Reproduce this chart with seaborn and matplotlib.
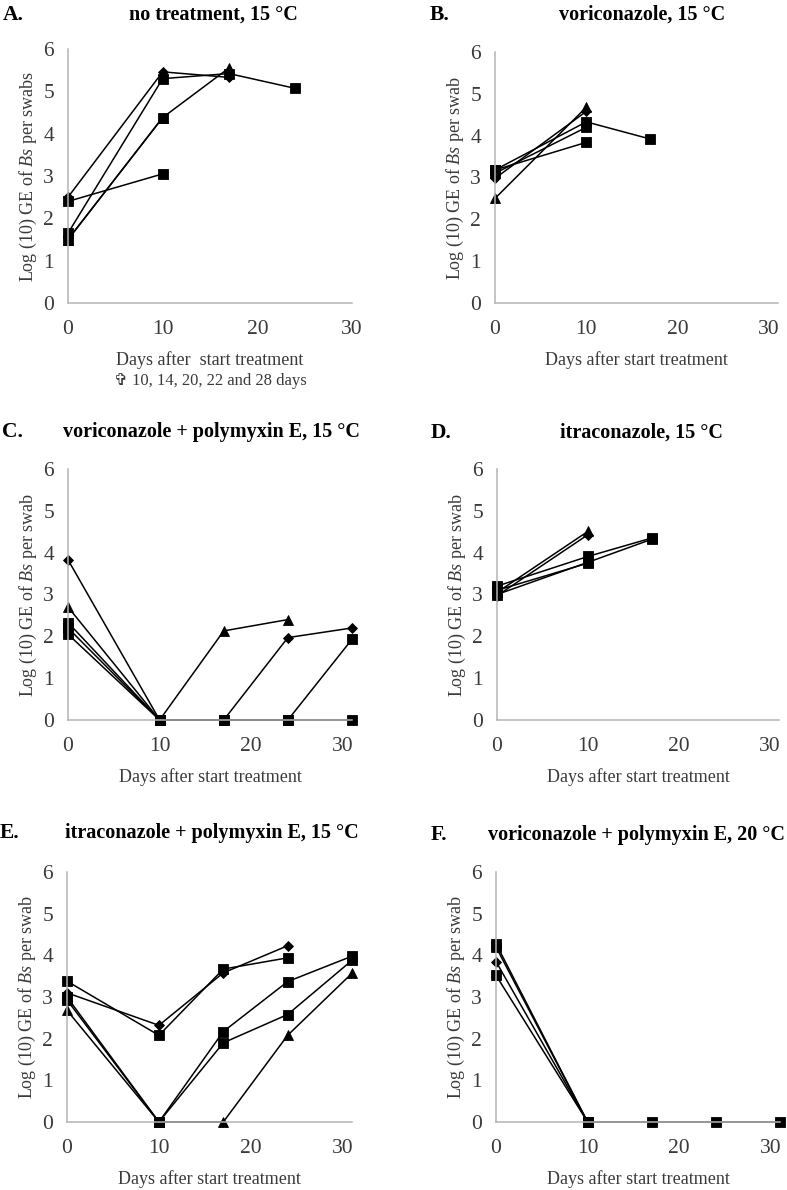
import matplotlib
matplotlib.use("Agg")
import matplotlib.pyplot as plt
import seaborn as sns

# ---------------- data (days after start treatment, log10 GE per swab) -------
# Panel A: no treatment, 15 °C
A_diamond_days = [0, 10, 17]
A_diamond = [2.5, 5.46, 5.33]
A_sq1_days = [0, 10]
A_sq1 = [2.4, 3.05]
A_tri_days = [0, 10, 17]
A_tri = [1.5, 4.38, 5.55]
A_sq2_days = [0, 10, 17, 24]
A_sq2 = [1.65, 5.3, 5.42, 5.07]
A_sq3_days = [0, 10]
A_sq3 = [1.5, 4.38]

# Panel B: voriconazole, 15 °C
B_tri_days = [0, 10]
B_tri = [2.5, 4.68]
B_diamond_days = [0, 10]
B_diamond = [2.98, 4.58]
B_sq1_days = [0, 10, 17]
B_sq1 = [3.18, 4.33, 3.92]
B_sq2_days = [0, 10]
B_sq2 = [3.1, 4.2]
B_sq3_days = [0, 10]
B_sq3 = [3.18, 3.84]

# Panel C: voriconazole + polymyxin E, 15 °C
C_diamond_days = [0, 10, 17, 24, 31]
C_diamond = [3.83, 0, 0, 1.97, 2.2]
C_tri_days = [0, 10, 17, 24]
C_tri = [2.7, 0, 2.13, 2.4]
C_sq1_days = [0, 10, 17, 24, 31]
C_sq1 = [2.33, 0, 0, 0, 1.93]
C_sq2_days = [0, 10, 17, 24, 31]
C_sq2 = [2.2, 0, 0, 0, 0]
C_sq3_days = [0, 10]
C_sq3 = [2.05, 0]

# Panel D: itraconazole, 15 °C
D_tri_days = [0, 10]
D_tri = [3.05, 4.51]
D_diamond_days = [0, 10]
D_diamond = [2.97, 4.43]
D_sq1_days = [0, 10, 17]
D_sq1 = [3.2, 3.91, 4.35]
D_sq2_days = [0, 10, 17]
D_sq2 = [3.0, 3.77, 4.32]
D_sq3_days = [0, 10]
D_sq3 = [3.1, 3.75]

# Panel E: itraconazole + polymyxin E, 15 °C
E_tri_days = [0, 10, 17, 24, 31]
E_tri = [2.68, 0, 0, 2.08, 3.57]
E_diamond_days = [0, 10, 17, 24]
E_diamond = [3.1, 2.32, 3.58, 4.23]
E_sq1_days = [0, 10, 17, 24]
E_sq1 = [3.38, 2.08, 3.67, 3.94]
E_sq2_days = [0, 10, 17, 24, 31]
E_sq2 = [2.93, 0, 2.17, 3.37, 3.98]
E_sq3_days = [0, 10, 17, 24, 31]
E_sq3 = [3.0, 0, 1.9, 2.58, 3.88]

# Panel F: voriconazole + polymyxin E, 20 °C
F_sq1_days = [0, 10, 17, 24, 31]
F_sq1 = [4.28, 0, 0, 0, 0]
F_sq2_days = [0, 10]
F_sq2 = [4.2, 0]
F_diamond_days = [0, 10]
F_diamond = [3.85, 0]
F_sq3_days = [0, 10]
F_sq3 = [3.52, 0]

panel_letters = ["A.", "B.", "C.", "D.", "E.", "F."]
panel_titles = ["no treatment, 15 °C", "voriconazole, 15 °C",
                "voriconazole + polymyxin E, 15 °C", "itraconazole, 15 °C",
                "itraconazole + polymyxin E, 15 °C",
                "voriconazole + polymyxin E, 20 °C"]
x_ticks = [0, 10, 20, 30]
y_ticks = [0, 1, 2, 3, 4, 5, 6]
footnote = "\u271e 10, 14, 20, 22 and 28 days"

# ---------------- style ----------------
sns.set_style("white")
plt.rcParams["font.family"] = ["Liberation Serif", "DejaVu Sans"]
plt.rcParams["mathtext.fontset"] = "custom"
plt.rcParams["mathtext.rm"] = "Liberation Serif"
plt.rcParams["mathtext.it"] = "Liberation Serif:italic"

W, H = 787, 1190
fig = plt.figure(figsize=(W / 100, H / 100), dpi=100)
fig.patch.set_facecolor("white")

def ax_at(l, r, t, b):
    return fig.add_axes([l / W, 1 - b / H, (r - l) / W, (b - t) / H])

MK = {"s": 7.0, "D": 5.4, "^": 7.8}

def series(ax, xs, ys, m):
    sns.lineplot(x=xs, y=ys, ax=ax, color="black", marker=m,
                 markersize=MK[m], markeredgewidth=0.6,
                 markeredgecolor="black", markerfacecolor="black",
                 linewidth=1.1, estimator=None, sort=False, clip_on=False,
                 legend=False)

panels = [
    # (rect, xmax, series list, ylabel)
    ((68, 352, 49, 303), 30,
     [(A_tri_days, A_tri, "^"), (A_sq1_days, A_sq1, "s"),
      (A_sq2_days, A_sq2, "s"), (A_sq3_days, A_sq3, "s"),
      (A_diamond_days, A_diamond, "D")],
     "Log (10) GE of $\\it{Bs}$ per swabs"),
    ((495, 778, 52, 303), 31,
     [(B_sq1_days, B_sq1, "s"), (B_sq2_days, B_sq2, "s"),
      (B_sq3_days, B_sq3, "s"), (B_diamond_days, B_diamond, "D"),
      (B_tri_days, B_tri, "^")],
     "Log (10) GE of $\\it{Bs}$ per swab"),
    ((68, 352, 469, 720), 31,
     [(C_diamond_days, C_diamond, "D"), (C_tri_days, C_tri, "^"),
      (C_sq3_days, C_sq3, "s"), (C_sq2_days, C_sq2, "s"),
      (C_sq1_days, C_sq1, "s")],
     "Log (10) GE of $\\it{Bs}$ per swab"),
    ((497, 779, 469, 720), 31,
     [(D_sq3_days, D_sq3, "s"), (D_sq1_days, D_sq1, "s"),
      (D_sq2_days, D_sq2, "s"), (D_tri_days, D_tri, "^"),
      (D_diamond_days, D_diamond, "D")],
     "Log (10) GE of $\\it{Bs}$ per swab"),
    ((67, 352, 872, 1122), 31,
     [(E_tri_days, E_tri, "^"), (E_sq3_days, E_sq3, "s"),
      (E_sq2_days, E_sq2, "s"), (E_sq1_days, E_sq1, "s"),
      (E_diamond_days, E_diamond, "D")],
     "Log (10) GE of $\\it{Bs}$ per swab"),
    ((496, 780, 872, 1122), 31,
     [(F_sq3_days, F_sq3, "s"), (F_diamond_days, F_diamond, "D"),
      (F_sq2_days, F_sq2, "s"), (F_sq1_days, F_sq1, "s")],
     "Log (10) GE of $\\it{Bs}$ per swab"),
]

letter_pos = [(3, 15), (430, 15), (2, 432), (431, 433), (0, 833), (431, 835)]
title_pos = [(213, 15), (642, 15), (212, 432), (641, 433), (212, 833), (636, 835)]

AXCOL = "#b4b4b4"
TXT = "#3a3a3a"

for i, (rect, xmax, ser, ylab) in enumerate(panels):
    ax = ax_at(*rect)
    for xs, ys, m in ser:
        series(ax, xs, ys, m)
    ax.set_xlim(0, xmax)
    ax.set_ylim(0, 6)
    ax.set_xticks(x_ticks)
    ax.set_yticks(y_ticks)
    for s in ["top", "right"]:
        ax.spines[s].set_visible(False)
    for s in ["left", "bottom"]:
        ax.spines[s].set_color(AXCOL)
        ax.spines[s].set_linewidth(1.1)
    ax.tick_params(axis="both", direction="out", length=5, width=1.0,
                   color=AXCOL, labelsize=15.5, labelcolor=TXT)
    ax.tick_params(axis="y", pad=5)
    ax.tick_params(axis="x", pad=7)
    ax.set_ylabel(ylab, fontsize=13, color=TXT, labelpad=3)
    ax.set_xlabel("Days after  start treatment" if i == 0 else
                  "Days after start treatment",
                  fontsize=13, color=TXT, labelpad=9)
    lx, ly = letter_pos[i]
    fig.text(lx / W, 1 - ly / H, panel_letters[i], fontsize=15.5,
             fontweight="bold", ha="left", va="center", color="black")
    tx, ty = title_pos[i]
    fig.text(tx / W, 1 - ty / H, panel_titles[i], fontsize=14.5,
             fontweight="bold", ha="center", va="center", color="black")

fig.text(210 / W, 1 - 381 / H, footnote, fontsize=12, color=TXT,
         ha="center", va="center")

fig.savefig("out.png", dpi=100, facecolor="white")
